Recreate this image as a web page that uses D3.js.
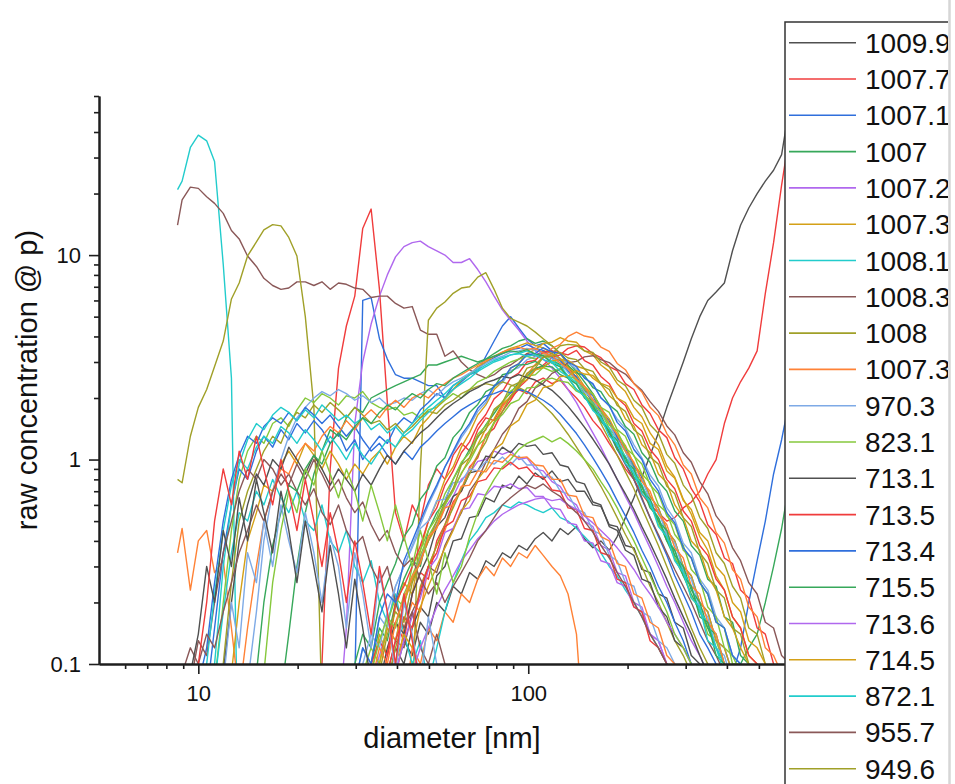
<!DOCTYPE html>
<html>
<head>
<meta charset="utf-8">
<script src="https://cdn.jsdelivr.net/npm/d3@7"></script>
<style>
  body { margin: 0; background: #fff; }
  svg { display: block; font-family: "Liberation Sans", Arial, sans-serif; }
</style>
</head>
<body>
<svg id="chart" width="955" height="784"></svg>
<script>
// Mobility-diameter bins (nm) shared by every scan
const diameters = [8.65, 8.93, 9.46, 10.0, 10.6, 11.2, 11.9, 12.6, 13.3, 14.1,
  15.0, 15.8, 16.8, 17.8, 18.8, 19.9, 21.1, 22.4, 23.7, 25.1,
  26.6, 28.1, 29.8, 31.5, 33.4, 35.4, 37.4, 39.6, 42.0, 44.5,
  47.1, 49.8, 52.8, 55.9, 59.2, 62.7, 66.4, 70.3, 74.4, 78.8,
  83.5, 88.4, 93.6, 99.1, 105, 111, 118, 125, 132, 140,
  148, 157, 166, 176, 186, 197, 209, 221, 234, 248,
  263, 278, 295, 312, 331, 350, 371, 393, 416, 440,
  466, 494, 523, 554, 586, 621];

// Legend labels (pressure of each scan)
const labels = ["1009.9", "1007.7", "1007.1", "1007", "1007.2", "1007.3", "1008.1", "1008.3",
  "1008", "1007.3", "970.3", "823.1", "713.1", "713.5", "713.4", "715.5", "713.6", "714.5",
  "872.1", "955.7", "949.6"];

const xTickValues = [10, 100];
const xTickLabels = ["10", "100"];
const xMinorTicks = [6, 7, 8, 9, 20, 30, 40, 50, 60, 70, 80, 90, 200, 300, 400, 500];
const yTickValues = [0.1, 1, 10];
const yTickLabels = ["0.1", "1", "10"];
const yMinorTicks = [0.2, 0.3, 0.4, 0.5, 0.6, 0.7, 0.8, 0.9, 2, 3, 4, 5, 6, 7, 8, 9, 20, 30, 40, 50, 60];

const palette = ["#505050", "#f03c3c", "#2f6fdc", "#37a85a", "#b068ee", "#d4a017",
  "#22cccc", "#8a5858", "#a0a028", "#ff8236", "#7eaae6", "#86c83c"];

// Index of the first diameter bin of each scan
const firstBin = [27, 17, 21, 13, 20, 24, 0, 0, 0, 0, 22, 5, 26, 25, 4, 23, 24, 7, 5, 26, 6,
  26, 9, 23, 25, 24, 3, 22, 27, 25, 5, 2, 26, 8, 23, 24, 6, 26, 22, 10, 29, 27, 4, 1, 25, 24, 6, 11,
  2, 3];

// Concentrations per scan, starting at firstBin
const scan01 = [0.09,0.13,0.11,0.16,0.14,0.2,0.18,0.24,0.22,0.28,0.26,0.32,0.3,0.35,0.33,0.38,0.36,0.41,0.44,0.4,0.46,0.43,0.47,0.41,0.37,0.4,0.36,0.42,0.52,0.65,0.82,1.05,1.35,1.8,2.3,3.0,3.9,5.0,6.0,6.6,7.3,10.5,14,17,20,23,26,31,55];
const scan02 = [0.06,0.1,0.9,2.8,4.5,6.3,13.5,16.8,6.8,1.9,0.55,0.4,0.6,0.5,0.75,0.9,0.8,1.05,1.2,1.1,1.4,1.6,1.55,1.85,2.0,2.2,2.1,2.4,2.5,2.35,2.45,2.2,2.0,1.8,1.55,1.4,1.2,1.05,0.9,0.8,0.68,0.6,0.55,0.5,0.52,0.58,0.62,0.7,0.85,1.0,1.5,2.0,2.4,2.8,3.4,6.5,11.5,22,40];
const scan03 = [0.06,0.08,6.0,6.2,3.9,3.1,2.6,2.5,2.5,2.4,2.3,2.3,2.0,2.2,2.4,2.6,2.7,3.2,3.8,4.5,5.0,4.4,3.9,3.6,3.7,3.4,3.1,2.8,2.5,2.2,1.9,1.6,1.35,1.12,0.95,0.8,0.64,0.52,0.42,0.34,0.27,0.22,0.18,0.14,0.12,0.1,0.085,0.09,0.12,0.2,0.32,0.5,0.85,1.25,2.0];
const scan04 = [0.07,0.14,0.3,0.55,0.85,1.1,1.4,1.3,1.6,1.8,1.7,2.0,2.1,2.2,2.3,2.4,2.5,2.6,2.9,2.9,3.0,3.1,3.2,3.1,3.0,3.1,3.3,3.5,3.6,3.8,3.9,3.7,3.8,3.6,3.3,3.0,2.7,2.4,2.1,1.8,1.5,1.3,1.1,0.9,0.75,0.6,0.5,0.4,0.33,0.27,0.22,0.18,0.15,0.12,0.1,0.09,0.1,0.12,0.14,0.2,0.3,0.46,0.8];
const scan05 = [0.05,0.15,1.5,3.0,4.6,6.3,8.0,9.8,11.0,11.5,11.7,11.0,10.5,10.0,9.2,9.2,9.6,8.5,7.4,6.3,5.4,4.8,4.3,3.8,3.4,3.1,2.8,2.5,2.2,1.9,1.6,1.35,1.15,0.95,0.8,0.66,0.55,0.45,0.37,0.3,0.24,0.2,0.16,0.13,0.11,0.09];
const scan06 = [0.09,0.14,0.11,0.19,0.25,0.22,0.36,0.5,0.62,0.8,0.92,1.15,1.35,1.65,1.85,2.2,2.4,2.8,2.95,3.3,3.45,3.7,3.75,3.95,3.8,3.75,3.4,3.25,2.9,2.7,2.35,2.15,1.8,1.62,1.35,1.18,0.93,0.82,0.64,0.54,0.42,0.36,0.27,0.23,0.17,0.15,0.11,0.1,0.08];
const scan07 = [20.9,23,33.6,38.6,36.2,28.7,9,2.5,0.015];
const scan08 = [14,18.6,21.5,21.2,19.3,17.9,16,13.2,12,9.9,8.8,7.7,7.1,6.8,6.9,7.4,7.4,7.1,7.4,6.8,7.3,7.2,6.9,6.8,6.2,6.3,6.3,5.8,5.5,5.6,4.3,4.1,4.1,3.2,3.4,3.0,2.75,2.6,2.5,2.6,2.8,2.9,3.1,3.3,3.2,3.4,3.3,3.1,2.8,2.5,2.2,1.9,1.6,1.35,1.15,0.95,0.8,0.65,0.52,0.43,0.35,0.29,0.24,0.2,0.16,0.13,0.11,0.09,0.1,0.08];
const scan09 = [0.8,0.77,1.3,1.8,2.2,2.85,3.8,6.1,7.3,9.9,11.6,13.3,14.1,13.9,12.2,9.9,5.0,1.8,0.06,0.05,0.05,0.05,0.05,0.05,0.05,0.05,0.05,0.05,0.05,0.06,0.9,4.8,5.5,5.9,6.5,6.9,7.0,7.8,8.2,6.8,5.5,4.9,4.7,4.5,4.2,3.9,3.6,3.3,2.9,2.5,2.1,1.8,1.5,1.25,1.05,0.87,0.72,0.58,0.47,0.38,0.3,0.24,0.19,0.15,0.12,0.1,0.08];
const scan10 = [0.35,0.46,0.23,0.4,0.45,0.28,0.32,0.15,0.07,0.05,0.05,0.05,0.05,0.05,0.05,0.05,0.05,0.05,0.05,0.05,0.05,0.05,0.05,0.05,0.05,0.05,0.05,0.05,0.06,0.12,0.1,0.15,0.13,0.18,0.16,0.22,0.2,0.26,0.3,0.27,0.33,0.3,0.35,0.33,0.38,0.34,0.3,0.27,0.22,0.14,0.04];
const scan11 = [0.08,0.12,0.1,0.17,0.15,0.24,0.3,0.38,0.48,0.6,0.73,0.92,1.08,1.28,1.46,1.72,1.9,2.28,2.38,2.72,2.82,3.08,3.18,3.35,3.22,3.12,2.95,2.78,2.52,2.32,2.02,1.82,1.58,1.42,1.18,1.02,0.84,0.74,0.58,0.51,0.39,0.35,0.26,0.23,0.17,0.15,0.11,0.1,0.08];
const scan12 = [0.08,0.2,0.45,0.8,1.1,1.3,1.2,1.5,1.6,1.45,1.75,2.0,1.9,2.1,2.0,1.85,2.05,2.0,2.15,1.9,1.8,1.75,1.8,1.65,1.7,1.6,1.75,1.8,1.95,2.1,2.0,2.2,2.4,2.5,2.7,2.85,3.0,3.1,3.2,3.1,3.25,3.12,2.88,2.72,2.42,2.22,1.92,1.72,1.42,1.27,1.02,0.92,0.73,0.64,0.48,0.43,0.33,0.29,0.21,0.19,0.14,0.13,0.1,0.08];
const scan13 = [0.08,0.12,0.1,0.15,0.19,0.17,0.27,0.3,0.4,0.41,0.52,0.53,0.65,0.62,0.75,0.72,0.83,0.76,0.86,0.8,0.88,0.78,0.8,0.7,0.7,0.6,0.59,0.48,0.47,0.38,0.37,0.29,0.28,0.22,0.21,0.16,0.15,0.11,0.1,0.085];
const scan14 = [0.07,0.11,0.16,0.13,0.22,0.28,0.26,0.4,0.48,0.62,0.7,0.92,1.02,1.32,1.42,1.72,1.95,2.25,2.45,2.75,2.9,3.15,3.25,3.5,3.6,3.55,3.3,3.15,2.85,2.72,2.35,2.2,1.85,1.68,1.4,1.28,1.02,0.9,0.72,0.62,0.48,0.43,0.33,0.31,0.23,0.21,0.15,0.14,0.1,0.09];
const scan15 = [0.07,0.15,0.35,0.6,0.9,0.8,1.1,1.3,1.15,1.4,1.25,1.5,1.35,1.55,1.4,1.2,1.35,1.1,1.25,1.0,1.15,1.3,1.2,1.45,1.6,1.5,1.75,1.9,2.1,2.0,2.3,2.45,2.6,2.8,3.0,3.15,3.3,3.45,3.5,3.65,3.5,3.42,3.15,3.05,2.7,2.55,2.2,2.05,1.72,1.55,1.28,1.14,0.93,0.82,0.66,0.58,0.45,0.4,0.3,0.27,0.2,0.18,0.13,0.12,0.09];
const scan16 = [0.08,0.1,0.15,0.13,0.2,0.26,0.32,0.3,0.45,0.55,0.62,0.8,0.95,1.12,1.28,1.48,1.68,1.92,2.12,2.38,2.55,2.8,2.85,3.02,2.92,2.88,2.65,2.58,2.25,2.15,1.85,1.72,1.45,1.33,1.08,0.97,0.78,0.7,0.56,0.5,0.38,0.34,0.26,0.24,0.17,0.16,0.11,0.1,0.08];
const scan17 = [0.08,0.11,0.15,0.13,0.2,0.26,0.33,0.4,0.48,0.58,0.66,0.8,0.86,0.98,1.0,1.1,1.06,1.1,1.0,1.02,0.9,0.88,0.78,0.74,0.64,0.6,0.5,0.47,0.38,0.36,0.28,0.27,0.2,0.19,0.14,0.13,0.1,0.09];
const scan18 = [0.09,0.2,0.4,0.55,0.75,0.7,0.95,1.1,0.95,1.2,1.05,0.9,1.1,0.95,0.8,0.95,0.85,1.0,1.1,0.95,1.15,1.3,1.2,1.45,1.6,1.8,2.0,2.2,2.45,2.6,2.85,3.0,3.2,3.35,3.5,3.6,3.72,3.62,3.52,3.3,3.12,2.82,2.62,2.28,2.08,1.78,1.58,1.33,1.17,0.95,0.84,0.66,0.58,0.45,0.4,0.3,0.27,0.2,0.18,0.13,0.12,0.09];
const scan19 = [0.08,0.18,0.35,0.55,0.5,0.7,0.6,0.8,0.65,0.55,0.7,0.5,0.45,0.6,0.4,0.35,0.45,0.3,0.25,0.32,0.2,0.16,0.22,0.14,0.1,0.13,0.08,0.12,0.18,0.25,0.32,0.4,0.45,0.52,0.55,0.6,0.58,0.62,0.6,0.57,0.55,0.58,0.52,0.5,0.46,0.42,0.38,0.35,0.3,0.27,0.23,0.2,0.17,0.14,0.12,0.1,0.08];
const scan20 = [0.09,0.13,0.12,0.18,0.22,0.3,0.28,0.38,0.46,0.55,0.7,0.8,0.97,1.12,1.33,1.48,1.78,1.92,2.24,2.36,2.64,2.76,2.98,3.02,3.18,3.22,3.08,2.98,2.76,2.62,2.36,2.18,1.92,1.72,1.46,1.32,1.08,0.97,0.78,0.68,0.53,0.47,0.37,0.32,0.25,0.22,0.16,0.15,0.11,0.1];
const scan21 = [0.1,0.25,0.5,0.7,0.9,1.1,1.3,1.2,1.5,1.7,1.6,1.85,1.7,1.9,1.75,1.6,1.8,1.65,1.5,1.55,1.4,1.5,1.35,1.45,1.6,1.72,1.68,1.85,1.95,2.1,2.2,2.28,2.35,2.3,2.4,2.32,2.25,2.15,2.0,1.85,1.68,1.5,1.33,1.15,1.0,0.86,0.74,0.62,0.52,0.43,0.36,0.3,0.24,0.2,0.16,0.13,0.11,0.09,0.07];
const scan22 = [0.1,0.08,0.15,0.2,0.18,0.3,0.38,0.45,0.6,0.72,0.9,1.05,1.3,1.5,1.8,2.05,2.32,2.6,2.92,3.18,3.5,3.66,4.0,4.2,4.02,3.94,3.55,3.38,2.95,2.75,2.35,2.14,1.8,1.64,1.34,1.18,0.94,0.85,0.65,0.58,0.44,0.39,0.29,0.26,0.19,0.17,0.12,0.11,0.09];
const scan23 = [0.08,0.18,0.4,0.7,1.0,1.3,1.6,1.8,2.0,2.15,2.05,2.2,2.1,1.95,2.05,1.9,2.0,1.85,1.9,2.0,1.95,2.1,2.2,2.05,2.25,2.4,2.5,2.65,2.8,2.95,3.1,3.2,3.35,3.4,3.5,3.42,3.32,3.12,2.98,2.66,2.48,2.14,1.98,1.66,1.5,1.24,1.1,0.88,0.8,0.63,0.56,0.43,0.39,0.29,0.26,0.19,0.17,0.12,0.11,0.08];
const scan24 = [0.09,0.12,0.1,0.16,0.21,0.19,0.3,0.36,0.45,0.52,0.68,0.8,0.97,1.08,1.33,1.46,1.74,1.9,2.16,2.3,2.56,2.6,2.82,2.7,2.78,2.56,2.48,2.2,2.1,1.8,1.7,1.4,1.3,1.04,0.95,0.75,0.68,0.53,0.48,0.36,0.33,0.25,0.22,0.16,0.15,0.1,0.1,0.08];
const scan25 = [0.08,0.12,0.16,0.14,0.22,0.28,0.34,0.47,0.52,0.66,0.7,0.86,0.88,1.04,1.02,1.15,1.08,1.2,1.16,1.18,1.06,1.08,0.94,0.92,0.78,0.76,0.62,0.6,0.47,0.45,0.36,0.34,0.26,0.25,0.19,0.17,0.13,0.12,0.1,0.08];
const scan26 = [0.1,0.13,0.11,0.2,0.24,0.3,0.38,0.5,0.58,0.75,0.88,1.08,1.22,1.48,1.66,1.98,2.15,2.5,2.65,3.0,3.05,3.35,3.4,3.32,3.25,3.42,3.05,2.9,2.55,2.35,2.0,1.84,1.5,1.38,1.12,1.0,0.8,0.72,0.56,0.5,0.38,0.34,0.26,0.23,0.17,0.15,0.11,0.1,0.085];
const scan27 = [0.08,0.12,0.25,0.5,0.8,1.05,1.3,1.2,1.45,1.6,1.5,1.7,1.55,1.8,1.65,1.5,1.65,1.45,1.3,1.45,1.25,1.1,1.2,1.05,0.95,1.1,1.0,1.15,1.25,1.38,1.5,1.62,1.75,1.85,1.95,2.05,2.1,2.18,2.12,2.2,2.15,2.05,1.95,1.82,1.66,1.5,1.34,1.18,1.02,0.88,0.75,0.63,0.53,0.44,0.36,0.3,0.24,0.2,0.16,0.13,0.1,0.08];
const scan28 = [0.1,0.14,0.12,0.2,0.25,0.31,0.42,0.48,0.64,0.72,0.93,1.02,1.28,1.42,1.7,1.86,2.15,2.26,2.6,2.66,2.9,2.92,3.02,2.86,2.84,2.6,2.5,2.2,2.05,1.76,1.64,1.36,1.24,0.98,0.9,0.7,0.64,0.5,0.45,0.34,0.3,0.23,0.2,0.15,0.14,0.1,0.09];
const scan29 = [0.09,0.13,0.17,0.21,0.29,0.33,0.44,0.46,0.57,0.58,0.68,0.67,0.74,0.73,0.76,0.72,0.73,0.66,0.66,0.58,0.57,0.49,0.48,0.4,0.39,0.32,0.31,0.25,0.24,0.19,0.18,0.14,0.13,0.1,0.09];
const scan30 = [0.1,0.15,0.13,0.2,0.26,0.32,0.4,0.47,0.6,0.72,0.85,1.02,1.18,1.42,1.58,1.88,2.02,2.34,2.46,2.74,2.82,3.04,3.08,3.06,2.86,2.78,2.5,2.34,2.05,1.9,1.58,1.46,1.18,1.08,0.85,0.77,0.6,0.52,0.4,0.36,0.27,0.23,0.17,0.15,0.12,0.1,0.08];
const scan31 = [0.1,0.3,0.6,0.95,1.25,1.5,1.4,1.65,1.8,1.7,1.55,1.75,1.6,1.85,1.7,1.55,1.65,1.5,1.6,1.4,1.5,1.35,1.45,1.3,1.4,1.55,1.7,1.85,2.0,2.2,2.35,2.5,2.7,2.85,3.0,3.1,3.25,3.3,3.4,3.28,3.22,3.02,2.88,2.56,2.38,2.06,1.88,1.58,1.42,1.17,1.04,0.85,0.75,0.6,0.52,0.41,0.36,0.28,0.24,0.18,0.16,0.12,0.1,0.08];
const scan32 = [0.08,0.13,0.11,0.2,0.35,0.5,0.7,0.9,0.8,1.0,0.9,0.75,0.85,0.7,0.6,0.72,0.55,0.48,0.6,0.45,0.38,0.42,0.3,0.25,0.3,0.2,0.15,0.18,0.12,0.1,0.14,0.1,0.08];
const scan33 = [0.08,0.12,0.17,0.15,0.24,0.3,0.38,0.48,0.58,0.72,0.85,1.05,1.22,1.52,1.72,2.04,2.26,2.64,2.8,3.16,3.3,3.6,3.66,3.62,3.4,3.34,3.0,2.84,2.45,2.3,1.95,1.8,1.48,1.34,1.06,0.96,0.75,0.67,0.52,0.46,0.35,0.31,0.24,0.21,0.15,0.14,0.1,0.09];
const scan34 = [0.07,0.15,0.3,0.5,0.7,0.9,0.85,1.05,1.2,1.1,1.3,1.45,1.35,1.55,1.4,1.6,1.75,1.6,1.8,1.95,1.8,2.0,2.1,2.0,2.2,2.35,2.5,2.6,2.75,2.9,3.05,3.2,3.35,3.45,3.55,3.45,3.5,3.32,3.22,2.96,2.78,2.46,2.28,1.96,1.78,1.5,1.33,1.1,0.97,0.78,0.7,0.54,0.48,0.37,0.33,0.24,0.22,0.16,0.14,0.1,0.09];
const scan35 = [0.1,0.14,0.12,0.18,0.24,0.3,0.37,0.46,0.5,0.63,0.64,0.77,0.78,0.9,0.88,0.98,0.95,1.03,0.94,1.04,0.94,0.94,0.83,0.82,0.7,0.68,0.57,0.55,0.45,0.43,0.34,0.32,0.25,0.24,0.18,0.17,0.13,0.12,0.1,0.08];
const scan36 = [0.09,0.13,0.17,0.15,0.22,0.27,0.34,0.42,0.5,0.6,0.7,0.86,0.98,1.17,1.28,1.52,1.66,1.88,1.96,2.24,2.26,2.44,2.5,2.42,2.38,2.16,2.08,1.86,1.72,1.48,1.38,1.14,1.05,0.85,0.77,0.6,0.55,0.43,0.38,0.29,0.26,0.19,0.17,0.12,0.11,0.09];
const scan37 = [0.09,0.2,0.4,0.6,0.85,0.75,1.0,0.9,1.15,1.0,0.85,1.05,0.9,0.75,0.9,0.8,0.7,0.85,0.75,0.9,1.05,0.95,1.1,1.22,1.35,1.45,1.6,1.75,1.88,2.0,2.15,2.25,2.38,2.45,2.55,2.5,2.6,2.52,2.45,2.32,2.18,2.0,1.82,1.62,1.44,1.26,1.1,0.95,0.8,0.68,0.57,0.47,0.39,0.32,0.26,0.21,0.17,0.14,0.11,0.09];
const scan38 = [0.09,0.13,0.17,0.15,0.23,0.3,0.35,0.47,0.5,0.63,0.66,0.78,0.8,0.91,0.9,0.97,0.9,0.92,0.83,0.82,0.71,0.7,0.58,0.57,0.46,0.45,0.35,0.34,0.26,0.25,0.19,0.18,0.13,0.12,0.1,0.08];
const scan39 = [0.08,0.12,0.1,0.17,0.22,0.2,0.32,0.4,0.5,0.62,0.75,0.92,1.1,1.32,1.5,1.78,1.96,2.3,2.45,2.8,2.94,3.25,3.3,3.52,3.36,3.3,3.0,2.85,2.5,2.35,2.0,1.84,1.52,1.38,1.12,1.0,0.8,0.7,0.55,0.49,0.37,0.33,0.25,0.22,0.16,0.15,0.11,0.1,0.08];
const scan40 = [0.09,0.2,0.38,0.55,0.75,0.7,0.9,1.05,0.95,1.2,1.35,1.25,1.45,1.6,1.5,1.7,1.85,1.75,1.95,2.1,2.0,2.2,2.35,2.3,2.5,2.65,2.8,2.95,3.1,3.2,3.3,3.4,3.35,3.45,3.28,3.22,2.96,2.84,2.5,2.34,2.0,1.84,1.54,1.38,1.12,1.02,0.82,0.74,0.58,0.52,0.4,0.36,0.27,0.24,0.17,0.16,0.11,0.1,0.08];
const scan41 = [0.09,0.12,0.15,0.19,0.23,0.27,0.32,0.36,0.41,0.45,0.5,0.54,0.57,0.6,0.62,0.64,0.65,0.63,0.64,0.6,0.57,0.53,0.49,0.45,0.41,0.37,0.33,0.29,0.25,0.22,0.19,0.16,0.14,0.12,0.1,0.085];
const scan42 = [0.1,0.14,0.12,0.19,0.24,0.3,0.37,0.45,0.56,0.63,0.8,0.9,1.12,1.2,1.46,1.56,1.86,1.95,2.25,2.3,2.55,2.56,2.72,2.62,2.58,2.36,2.28,2.0,1.9,1.6,1.5,1.2,1.12,0.88,0.81,0.63,0.57,0.44,0.4,0.3,0.27,0.2,0.18,0.13,0.12,0.1,0.085];
const scan43 = [0.1,0.22,0.45,0.75,1.0,0.9,1.15,1.3,1.2,1.45,1.35,1.2,1.4,1.25,1.1,1.3,1.15,1.0,1.2,1.05,0.95,1.1,1.25,1.15,1.35,1.5,1.65,1.8,1.95,2.1,2.3,2.45,2.6,2.75,2.9,3.05,3.15,3.25,3.3,3.2,3.25,3.08,2.98,2.7,2.54,2.2,2.04,1.74,1.6,1.3,1.2,0.96,0.86,0.68,0.62,0.47,0.42,0.32,0.28,0.21,0.19,0.13,0.12,0.09];
const scan44 = [0.09,0.12,0.1,0.14,0.12,0.18,0.25,0.35,0.45,0.6,0.5,0.7,0.85,0.75,0.95,0.8,1.0,0.85,0.7,0.8,0.65,0.55,0.62,0.48,0.4,0.45,0.35,0.3,0.33,0.26,0.22,0.25,0.2,0.24,0.28,0.33,0.4,0.45,0.52,0.6,0.65,0.7,0.75,0.72,0.76,0.7,0.66,0.6,0.55,0.5,0.44,0.38,0.33,0.28,0.24,0.2,0.17,0.14,0.12,0.1,0.08];
const scan45 = [0.09,0.14,0.18,0.16,0.25,0.32,0.4,0.5,0.62,0.72,0.94,1.02,1.3,1.4,1.76,1.9,2.28,2.38,2.8,2.88,3.16,3.2,3.34,3.14,3.08,2.78,2.7,2.34,2.2,1.84,1.72,1.4,1.3,1.03,0.95,0.74,0.68,0.52,0.47,0.35,0.31,0.23,0.21,0.15,0.14,0.1,0.09];
const scan46 = [0.08,0.12,0.1,0.16,0.21,0.27,0.31,0.42,0.46,0.58,0.6,0.74,0.75,0.88,0.87,0.99,0.97,1.06,1.02,1.03,0.94,0.93,0.8,0.8,0.67,0.66,0.53,0.52,0.42,0.4,0.31,0.3,0.22,0.21,0.16,0.15,0.11,0.1,0.08];
const scan47 = [0.08,0.2,0.12,0.35,0.25,0.5,0.3,0.6,0.4,0.28,0.55,0.35,0.2,0.42,0.3,0.15,0.35,0.22,0.12,0.28,0.18,0.09,0.2,0.14,0.08,0.17,0.1,0.07];
const scan48 = [0.09,0.25,0.45,0.7,0.55,0.9,0.75,1.1,0.85,0.65,0.9,0.7,0.5,0.75,0.55,0.4,0.6,0.42,0.3,0.45,0.32,0.22,0.35,0.25,0.3,0.42,0.55,0.68,0.8,0.92,1.0,1.12,1.2,1.25,1.3,1.22,1.28,1.2,1.1,1.0,0.9,0.78,0.68,0.58,0.48,0.4,0.33,0.27,0.22,0.18,0.14,0.12,0.1,0.08];
const scan49 = [0.09,0.14,0.3,0.2,0.45,0.3,0.65,0.4,0.8,0.55,0.35,0.7,0.45,0.25,0.5,0.3,0.18,0.38,0.22,0.12,0.26,0.15,0.08];
const scan50 = [0.1,0.2,0.5,0.9,0.6,1.1,0.8,1.3,0.9,0.6,1.0,0.7,0.45,0.8,0.5,0.3,0.55,0.35,0.2,0.4,0.25,0.14,0.3,0.18,0.1,0.22,0.13,0.08];

const scans = [scan01, scan02, scan03, scan04, scan05, scan06, scan07, scan08, scan09, scan10,
  scan11, scan12, scan13, scan14, scan15, scan16, scan17, scan18, scan19, scan20,
  scan21, scan22, scan23, scan24, scan25, scan26, scan27, scan28, scan29, scan30,
  scan31, scan32, scan33, scan34, scan35, scan36, scan37, scan38, scan39, scan40,
  scan41, scan42, scan43, scan44, scan45, scan46, scan47, scan48, scan49, scan50];

// ---------- drawing ----------
const svg = d3.select("#chart");
const plot = { left: 99, right: 785, top: 96, bottom: 664 };

const x = d3.scaleLog().domain([5, 600]).range([plot.left, plot.right]);
const y = d3.scaleLog().domain([0.1, 60]).range([plot.bottom, plot.top]);

svg.append("defs").append("clipPath").attr("id", "plotClip")
  .append("rect").attr("x", plot.left).attr("y", 0)
  .attr("width", 955 - plot.left).attr("height", plot.bottom);

const line = d3.line().x(p => x(p.d)).y(p => y(p.v));

const gLines = svg.append("g").attr("clip-path", "url(#plotClip)");
scans.forEach((vals, s) => {
  const pts = vals
    .map((v, k) => ({ d: diameters[firstBin[s] + k], v }))
    .filter(p => p.d !== undefined && p.v > 0);
  gLines.append("path")
    .datum(pts)
    .attr("d", line)
    .attr("fill", "none")
    .attr("stroke", palette[s % palette.length])
    .attr("stroke-width", 1.4)
    .attr("stroke-linejoin", "round");
});

// axes
function styleAxis(g) {
  g.select(".domain").attr("stroke", "#1e1e1e").attr("stroke-width", 2);
  g.selectAll(".tick line").attr("stroke", "#1e1e1e").attr("stroke-width", 1.6);
  g.selectAll(".tick text").attr("fill", "#111").style("font-size", "22px")
    .style("font-family", "'Liberation Sans', Arial, sans-serif");
}

svg.append("g").attr("transform", `translate(0,${plot.bottom})`)
  .call(d3.axisBottom(x).tickValues(xMinorTicks).tickSize(5).tickSizeOuter(0).tickFormat(""))
  .call(styleAxis);
svg.append("g").attr("transform", `translate(0,${plot.bottom})`)
  .call(d3.axisBottom(x).tickValues(xTickValues).tickSize(10).tickPadding(11).tickSizeOuter(0)
    .tickFormat((d, i) => xTickLabels[i]))
  .call(styleAxis);

svg.append("g").attr("transform", `translate(${plot.left},0)`)
  .call(d3.axisLeft(y).tickValues(yMinorTicks).tickSize(5).tickSizeOuter(0).tickFormat(""))
  .call(styleAxis);
svg.append("g").attr("transform", `translate(${plot.left},0)`)
  .call(d3.axisLeft(y).tickValues(yTickValues).tickSize(10).tickPadding(8).tickSizeOuter(0)
    .tickFormat((d, i) => yTickLabels[i]))
  .call(styleAxis);

// axis titles
svg.append("text")
  .attr("x", 452).attr("y", 748)
  .attr("text-anchor", "middle")
  .attr("fill", "#111")
  .style("font-size", "29px")
  .text("diameter [nm]");

svg.append("text")
  .attr("transform", "translate(37,380) rotate(-90)")
  .attr("text-anchor", "middle")
  .attr("fill", "#111")
  .style("font-size", "29px")
  .text("raw concentration @ p)");

// legend
const legend = svg.append("g");
legend.append("rect")
  .attr("x", 785).attr("y", 22).attr("width", 220).attr("height", 820)
  .attr("fill", "#fff").attr("stroke", "#333").attr("stroke-width", 1.5);

labels.forEach((lab, i) => {
  const cy = 42.7 + 36.3 * i;
  legend.append("line")
    .attr("x1", 789).attr("x2", 856).attr("y1", cy).attr("y2", cy)
    .attr("stroke", palette[i % palette.length]).attr("stroke-width", 1.6);
  legend.append("text")
    .attr("x", 865).attr("y", cy + 10)
    .attr("fill", "#111")
    .style("font-size", "28px")
    .text(lab);
});

// right page edge
svg.append("rect").attr("x", 948).attr("y", 0).attr("width", 7).attr("height", 784).attr("fill", "#fff");
svg.append("line").attr("x1", 949.5).attr("x2", 949.5).attr("y1", 0).attr("y2", 784)
  .attr("stroke", "#d6d6d6").attr("stroke-width", 2.5);
</script>
</body>
</html>
